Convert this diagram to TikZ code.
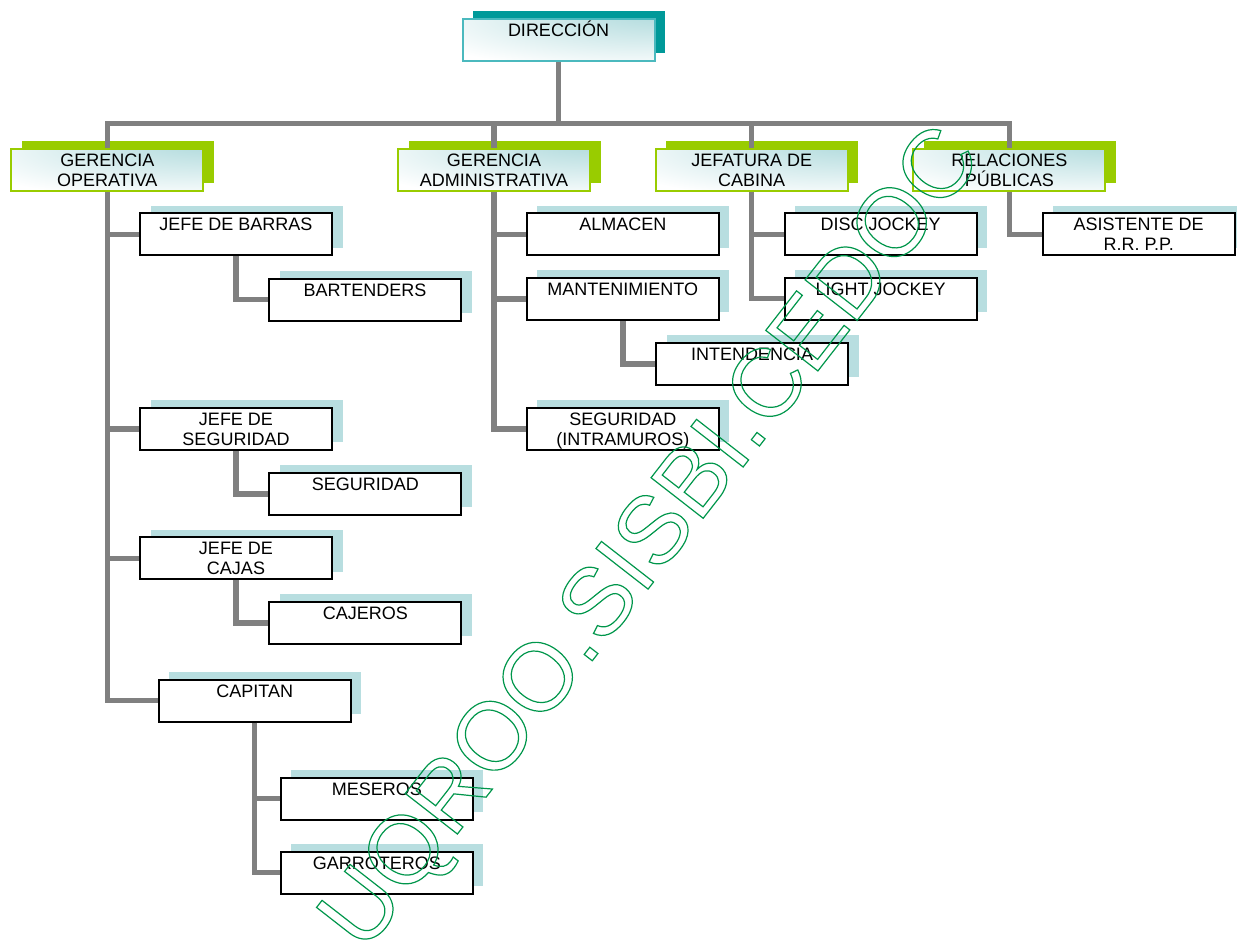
\documentclass[tikz,border=0pt]{standalone}
\usepackage{fontspec}
\setmainfont{Liberation Sans}
\usetikzlibrary{shadows}
\definecolor{tealsh}{RGB}{0,153,153}
\definecolor{tealbd}{RGB}{75,185,190}
\definecolor{limesh}{RGB}{153,204,0}
\definecolor{lblue}{RGB}{184,222,224}
\definecolor{linegray}{RGB}{128,128,128}
\definecolor{wmgreen}{RGB}{0,150,75}
\pgfdeclareradialshading{glow}{\pgfpoint{35bp}{45bp}}{color(0bp)=(lblue); color(15bp)=(lblue); color(55bp)=(white); color(100bp)=(white)}
\newcommand{\cargo}[1]{\parbox[c][40pt][t]{190pt}{\centering\rule{0pt}{16.5pt}#1}}
\newcommand{\hueco}[1]{\special{pdf:literal direct 1 Tr 1.2 w}#1\special{pdf:literal direct 0 Tr}}

\begin{document}
\begin{tikzpicture}[x=1pt,y=1pt]
\tikzstyle{every node}+=[inner sep=1pt, font=\fontsize{18}{20}\selectfont]
\tikzstyle{topbox}=[draw=tealbd, line width=2pt, shade, shading=glow, general shadow={fill=tealsh, shadow xshift=10pt, shadow yshift=8pt}]
\tikzstyle{gerbox}=[draw=limesh, line width=2pt, shade, shading=glow, general shadow={fill=limesh, shadow xshift=10.5pt, shadow yshift=7.7pt}]
\tikzstyle{subbox}=[draw=black, line width=2pt, fill=white, general shadow={fill=lblue, shadow xshift=10.5pt, shadow yshift=7.7pt}]
\tikzstyle{conn}=[draw=linegray, line width=5.5pt]
\tikzstyle{wmark}=[anchor=base west, rotate=52.1, inner sep=0pt, text=wmgreen, font=\fontsize{96}{96}\selectfont]
\useasboundingbox (0,0) rectangle (1237,-940);
\node [topbox] (dir) at (558.5,-40) {\cargo{DIRECCIÓN}};
\node [gerbox] (gop) at (107.3,-169.7) {\cargo{GERENCIA\\OPERATIVA}};
\node [gerbox] (gad) at (494,-169.7) {\cargo{GERENCIA\\ADMINISTRATIVA}};
\node [gerbox] (jcab) at (751.7,-169.7) {\cargo{JEFATURA DE\\CABINA}};
\node [gerbox] (rp) at (1009.4,-169.7) {\cargo{RELACIONES\\PÚBLICAS}};
\node [subbox] (jb) at (236,-234.3) {\cargo{JEFE DE BARRAS}};
\node [subbox] (bt) at (365,-299.5) {\cargo{BARTENDERS}};
\node [subbox] (js) at (236,-429) {\cargo{JEFE DE\\SEGURIDAD}};
\node [subbox] (seg) at (365.3,-493.8) {\cargo{SEGURIDAD}};
\node [subbox] (jcj) at (236,-558.3) {\cargo{JEFE DE\\CAJAS}};
\node [subbox] (caj) at (365.3,-623) {\cargo{CAJEROS}};
\node [subbox] (cap) at (254.7,-700.7) {\cargo{CAPITAN}};
\node [subbox] (mes) at (376.9,-798.5) {\cargo{MESEROS}};
\node [subbox] (gar) at (376.9,-872.5) {\cargo{GARROTEROS}};
\node [subbox] (alm) at (622.8,-234.3) {\cargo{ALMACEN}};
\node [subbox] (man) at (622.8,-299) {\cargo{MANTENIMIENTO}};
\node [subbox] (int) at (752,-364) {\cargo{INTENDENCIA}};
\node [subbox] (segi) at (622.8,-429) {\cargo{SEGURIDAD\\(INTRAMUROS)}};
\node [subbox] (dj) at (880.7,-234.3) {\cargo{DISC JOCKEY}};
\node [subbox] (lj) at (880.7,-298.7) {\cargo{LIGHT JOCKEY}};
\node [subbox] (ast) at (1138.7,-234.3) {\cargo{ASISTENTE DE\\R.R. P.P.}};
\coordinate (bus) at (0,-123.5);
\draw [conn] (dir) -- (dir |- bus);
\draw [conn] (gop) -- (gop |- bus) -- (rp |- bus) -- (rp);
\draw [conn] (gad) -- (gad |- bus);
\draw [conn] (jcab) -- (jcab |- bus);
\draw [conn] (gop) -- (gop |- cap) -- (cap);
\draw [conn] (gop |- jb) -- (jb);
\draw [conn] (gop |- js) -- (js);
\draw [conn] (gop |- jcj) -- (jcj);
\draw [conn] (jb) -- (jb |- bt) -- (bt);
\draw [conn] (js) -- (js |- seg) -- (seg);
\draw [conn] (jcj) -- (jcj |- caj) -- (caj);
\draw [conn] (cap) -- (cap |- gar) -- (gar);
\draw [conn] (cap |- mes) -- (mes);
\draw [conn] (gad) -- (gad |- segi) -- (segi);
\draw [conn] (gad |- alm) -- (alm);
\draw [conn] (gad |- man) -- (man);
\draw [conn] (man) -- (man |- int) -- (int);
\draw [conn] (jcab) -- (jcab |- lj) -- (lj);
\draw [conn] (jcab |- dj) -- (dj);
\draw [conn] (rp) -- (rp |- ast) -- (ast);
\node [wmark] (wm) at (364,-954) {\hueco{UQROO.SISBI.CEDOC}};
\end{tikzpicture}
\end{document}
